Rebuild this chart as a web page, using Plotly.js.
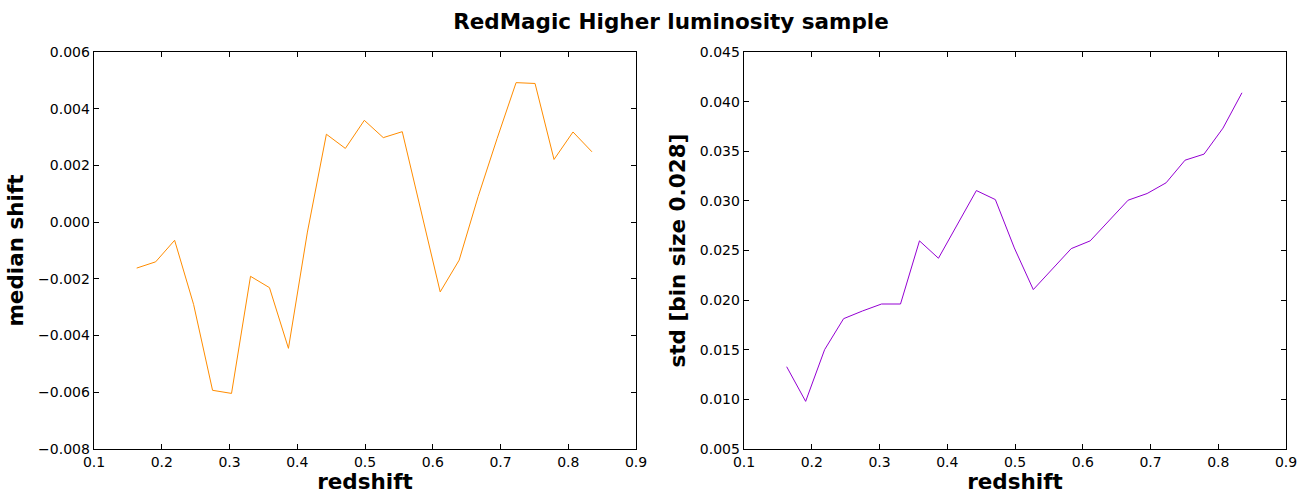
<!DOCTYPE html>
<html>
<head>
<meta charset="utf-8">
<script src="https://cdn.plot.ly/plotly-3.0.1.min.js"></script>
<style>html,body{margin:0;padding:0;background:#fff;}#chart{width:1298px;height:494px;}</style>
</head>
<body>
<div id="chart"></div>
<script>
const redshift = [0.163, 0.191, 0.219, 0.247, 0.275, 0.303, 0.331, 0.359, 0.387, 0.415, 0.443, 0.471, 0.499, 0.527, 0.555, 0.583, 0.611, 0.639, 0.667, 0.695, 0.723, 0.751, 0.779, 0.807, 0.835];
const medianShift = [-0.00162, -0.00140, -0.00064, -0.00290, -0.00593, -0.00604, -0.00191, -0.00231, -0.00445, -0.00035, 0.00310, 0.00260, 0.00359, 0.00298, 0.00319, 0.00040, -0.00246, -0.00134, 0.00090, 0.00295, 0.00492, 0.00489, 0.00221, 0.00318, 0.00248];
const stdShift = [0.01329, 0.00980, 0.01501, 0.01813, 0.01891, 0.01961, 0.01961, 0.02597, 0.02422, 0.02760, 0.03104, 0.03013, 0.02526, 0.02106, 0.02314, 0.02519, 0.02597, 0.02800, 0.03007, 0.03074, 0.03182, 0.03410, 0.03471, 0.03733, 0.04089];
const xTicks = [0.1, 0.2, 0.3, 0.4, 0.5, 0.6, 0.7, 0.8, 0.9];
const xTickText = ['0.1', '0.2', '0.3', '0.4', '0.5', '0.6', '0.7', '0.8', '0.9'];
const yTicksLeft = [-0.008, -0.006, -0.004, -0.002, 0.000, 0.002, 0.004, 0.006];
const yTickTextLeft = ['\u22120.008', '\u22120.006', '\u22120.004', '\u22120.002', '0.000', '0.002', '0.004', '0.006'];
const yTicksRight = [0.005, 0.010, 0.015, 0.020, 0.025, 0.030, 0.035, 0.040, 0.045];
const yTickTextRight = ['0.005', '0.010', '0.015', '0.020', '0.025', '0.030', '0.035', '0.040', '0.045'];

const font = 'DejaVu Sans, sans-serif';
const W = 1298, H = 494;
const yDom = [1 - 449 / H, 1 - 52 / H];

function xa(dom, anchor) {
  return {
    domain: dom, anchor: anchor, range: [0.1, 0.9],
    tickvals: xTicks, ticktext: xTickText,
    ticks: 'inside', ticklen: 5, tickwidth: 1, tickcolor: '#000',
    mirror: 'allticks', showline: true, linecolor: '#000', linewidth: 1.3,
    showgrid: false, zeroline: false,
    tickfont: {family: font, size: 14, color: '#000'},
    title: {text: '<b>redshift</b>', font: {family: font, size: 21.5, color: '#000'}, standoff: 8},
    automargin: false
  };
}
function ya(ticks, text, range, title, anchor) {
  return {
    domain: yDom, anchor: anchor, range: range,
    tickvals: ticks, ticktext: text,
    ticks: 'inside', ticklen: 5, tickwidth: 1, tickcolor: '#000',
    mirror: 'allticks', showline: true, linecolor: '#000', linewidth: 1.3,
    showgrid: false, zeroline: false,
    tickfont: {family: font, size: 14, color: '#000'},
    title: {text: '<b>' + title + '</b>', font: {family: font, size: 21.5, color: '#000'}, standoff: 8},
    automargin: false
  };
}

const data = [
  {x: redshift, y: medianShift, type: 'scatter', mode: 'lines', line: {color: '#FF8C00', width: 1}, xaxis: 'x', yaxis: 'y', showlegend: false, hoverinfo: 'x+y'},
  {x: redshift, y: stdShift, type: 'scatter', mode: 'lines', line: {color: '#9400D3', width: 1}, xaxis: 'x2', yaxis: 'y2', showlegend: false, hoverinfo: 'x+y'}
];

const layout = {
  width: W, height: H,
  margin: {l: 0, r: 0, t: 0, b: 0},
  paper_bgcolor: '#fff', plot_bgcolor: '#fff',
  title: {text: '<b>RedMagic Higher luminosity sample</b>', font: {family: font, size: 21.5, color: '#000'}, x: 671 / W, xanchor: 'center', y: 1 - 21 / H, yanchor: 'middle'},
  xaxis: xa([94 / W, 636 / W], 'y'),
  yaxis: ya(yTicksLeft, yTickTextLeft, [-0.008, 0.006], 'median shift', 'x'),
  xaxis2: xa([744 / W, 1286 / W], 'y2'),
  yaxis2: ya(yTicksRight, yTickTextRight, [0.005, 0.045], 'std [bin size 0.028]', 'x2')
};

Plotly.newPlot('chart', data, layout, {staticPlot: true, displayModeBar: false});
</script>
</body>
</html>
